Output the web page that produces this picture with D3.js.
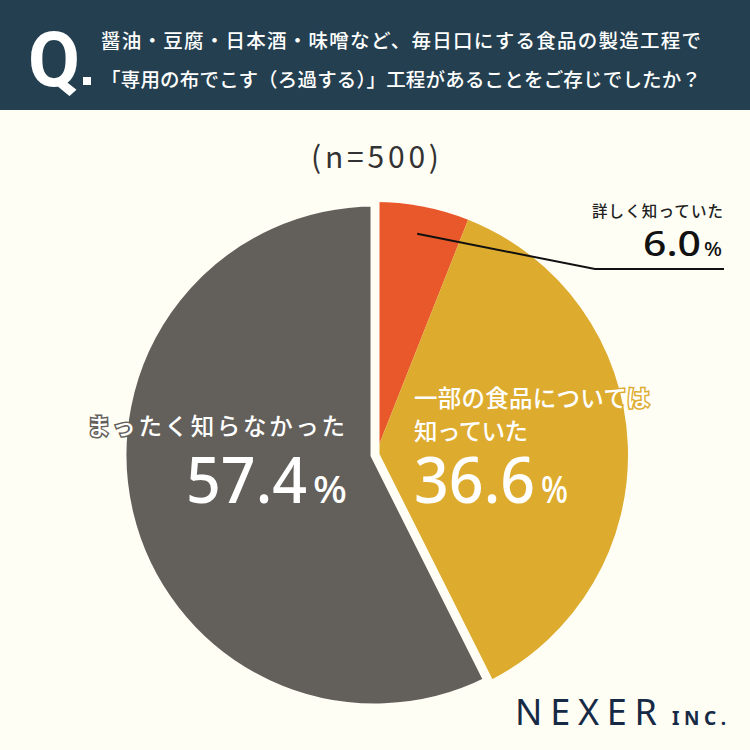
<!DOCTYPE html>
<html>
<head>
<meta charset="utf-8">
<script src="https://cdn.jsdelivr.net/npm/d3@7"></script>
<style>
  body { margin: 0; background: #fffef5; }
  svg { display: block; }
</style>
</head>
<body>
<div id="canvas"></div>
<script>
var w = 750;
var h = 750;

var titleLines = ["醤油・豆腐・日本酒・味噌など、毎日口にする食品の製造工程で",
                  "「専用の布でこす（ろ過する）」工程があることをご存じでしたか？"];
var categories = ["詳しく知っていた", "一部の食品については知っていた", "まったく知らなかった"];
var values = [6.0, 36.6, 57.4];
var colors = ["#e8582b", "#ddab2d", "#635f5b"];
var sampleLabel = "(n=500)";

var jp = "'Noto Sans CJK JP', 'Noto Sans', sans-serif";
var num = "'Noto Sans', sans-serif";
var cx = 375, cy = 455, r = 253;

var canvas = d3.select("#canvas")
    .append("svg")
    .attr("width", w)
    .attr("height", h)
    .style("background-color", "#fffef5");

// header band
canvas.append("rect")
    .attr("width", w)
    .attr("height", 110)
    .attr("fill", "#244050");

canvas.append("text")
    .attr("x", 28)
    .attr("y", 86)
    .attr("fill", "white")
    .attr("font-family", "Roboto, sans-serif")
    .attr("font-weight", 700)
    .attr("font-size", 76)
    .attr("textLength", 52)
    .attr("lengthAdjust", "spacingAndGlyphs")
    .text("Q");

canvas.append("rect")
    .attr("x", 83).attr("y", 77)
    .attr("width", 8).attr("height", 8)
    .attr("fill", "white");

canvas.selectAll(".title")
    .data(titleLines)
    .join("text")
    .attr("class", "title")
    .attr("x", 101)
    .attr("y", (d, i) => 48 + i * 39)
    .attr("fill", "white")
    .attr("font-family", jp)
    .attr("font-weight", 500)
    .attr("font-size", 19.5)
    .attr("textLength", 600)
    .text(d => d);

canvas.append("text")
    .attr("x", w / 2)
    .attr("y", 168)
    .attr("text-anchor", "middle")
    .attr("fill", "#333")
    .attr("font-family", jp)
    .attr("font-size", 30)
    .attr("textLength", 128)
    .text(sampleLabel);

// pie
var pie = d3.pie().sort(null).value(d => d);
var arc = d3.arc().innerRadius(0).outerRadius(r);
var arcs = pie(values);

var g = canvas.append("g")
    .attr("transform", `translate(${cx}, ${cy})`);

g.selectAll("path")
    .data(arcs)
    .join("path")
    .attr("d", arc)
    .attr("fill", (d, i) => colors[i])
    .attr("stroke", (d, i) => i == 2 ? "#fffef5" : "none")
    .attr("stroke-width", 9)
    .attr("stroke-linejoin", "miter");

// leader for small slice
var mid = (arcs[0].startAngle + arcs[0].endAngle) / 2;
var p0 = [cx + Math.sin(mid) * r * 0.89, cy - Math.cos(mid) * r * 0.89];
canvas.append("polyline")
    .attr("points", [p0, [595, 269], [724, 269]].map(p => p.join(",")).join(" "))
    .attr("fill", "none")
    .attr("stroke", "#111")
    .attr("stroke-width", 2);

canvas.append("text")
    .attr("x", 592).attr("y", 217)
    .attr("fill", "#222")
    .attr("font-family", jp)
    .attr("font-weight", 500)
    .attr("font-size", 15.5)
    .attr("textLength", 131)
    .text(categories[0]);

// number + small percent sign, with measured widths
function pct(x, y, v, big, small, numW, pctW, gap, fill) {
    canvas.append("text")
        .attr("x", x).attr("y", y)
        .attr("fill", fill)
        .attr("font-family", num)
        .attr("font-weight", 500)
        .attr("font-size", big)
        .attr("textLength", numW)
        .attr("lengthAdjust", "spacingAndGlyphs")
        .text(v.toFixed(1));
    canvas.append("text")
        .attr("x", x + numW + gap).attr("y", y)
        .attr("fill", fill)
        .attr("font-family", num)
        .attr("font-weight", 500)
        .attr("font-size", small)
        .attr("textLength", pctW)
        .attr("lengthAdjust", "spacingAndGlyphs")
        .text("%");
}

pct(643, 256, values[0], 34, 20, 58, 18, 3, "#111");

// yellow label
canvas.selectAll(".ylab")
    .data(["一部の食品については", "知っていた"])
    .join("text")
    .attr("class", "ylab")
    .attr("x", 414)
    .attr("y", (d, i) => 407 + i * 33)
    .attr("fill", "white")
    .attr("font-family", jp)
    .attr("font-weight", 500)
    .attr("font-size", 23.5)
    .attr("textLength", (d, i) => i == 0 ? 236 : 114)
    .attr("stroke", colors[1])
    .attr("stroke-width", 3)
    .attr("paint-order", "stroke")
    .text(d => d);
pct(414, 503, values[1], 64, 38, 121, 27, 6, "white");

// gray label
canvas.append("text")
    .attr("x", 87).attr("y", 435)
    .attr("fill", "white")
    .attr("font-family", jp)
    .attr("font-weight", 500)
    .attr("font-size", 23.5)
    .attr("textLength", 258)
    .attr("stroke", colors[2])
    .attr("stroke-width", 3)
    .attr("paint-order", "stroke")
    .text(categories[2]);
pct(186, 503, values[2], 64, 38, 121, 34, 6, "white");

// logo
canvas.append("text")
    .attr("x", 515).attr("y", 725)
    .attr("fill", "#172a45")
    .attr("font-family", num)
    .attr("font-size", 36)
    .attr("textLength", 142)
    .text("NEXER");
canvas.append("text")
    .attr("x", 672).attr("y", 725)
    .attr("fill", "#172a45")
    .attr("font-family", num)
    .attr("font-weight", 700)
    .attr("font-size", 19)
    .attr("textLength", 54)
    .text("INC.");
</script>
</body>
</html>
